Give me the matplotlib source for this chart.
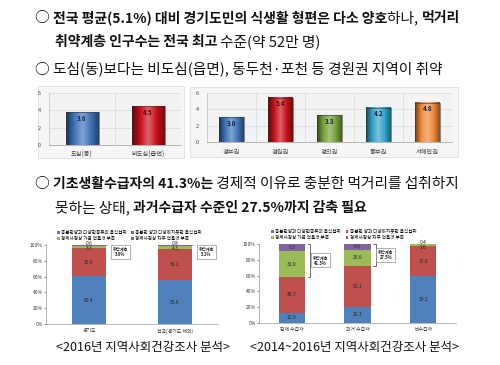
import numpy as np
import matplotlib.pyplot as plt
from matplotlib.colors import LinearSegmentedColormap, to_rgb
from matplotlib.patches import Rectangle
from matplotlib.text import Annotation

plt.rcParams['font.family'] = ['Noto Sans CJK KR', 'DejaVu Sans']

W, H = 500, 365

# 도심 / 비도심
area_cats = ['도심(동)', '비도심(읍면)']
area_vals = [3.8, 4.5]
area_colors = ['#3f74b8', '#c8101a']

# 권역별
region_cats = ['경부권', '경원권', '경의권', '동부권', '서해안권']
region_vals = [3.0, 5.4, 3.3, 4.2, 4.8]
region_colors = ['#3f74b8', '#c8101a', '#77a33a', '#33a3c7', '#f08a3a']

# 누적 막대 공통
stack_labels = ['충분한양과 다양한종류의 음식섭취', '충분한 양과 다양하지못한 음식섭취',
                '경제사정상 가끔 먹을것 부족', '경제사정상 자주 먹을것 부족']
stack_colors = ['#4f81bd', '#c0504d', '#9bbb59', '#8064a2']

# 2016
y2016_cats = ['경기도', '전국(경기도 제외)']
y2016_vals = [[60.4, 55.6], [35.6, 39.2], [3.3, 4.3], [0.6, 0.8]]
y2016_vuln = ['3.9%', '5.1%']

# 2014~2016 수급자별
recip_cats = ['현재 수급자', '과거 수급자', '비수급자']
recip_vals = [[12.9, 20.3, 59.2], [45.7, 52.1, 37.8], [32.0, 20.6, 2.6], [9.3, 6.9, 0.4]]
recip_vuln = ['41.3%', '27.5%']

lines = [
    (35, 18, [('○ ', False), ('전국 평균(5.1%) 대비 경기도민의 식생활 형편은 다소 양호', True),
              ('하나, ', False), ('먹거리', True)]),
    (55, 42, [('취약계층 인구수는 전국 최고 ', True), ('수준(약 52만 명)', False)]),
    (35, 69, [('○ 도심(동)보다는 비도심(읍면), 동두천·포천 등 경원권 지역이 취약', False)]),
    (35, 184, [('○ ', False), ('기초생활수급자의 41.3%는', True),
               (' 경제적 이유로 충분한 먹거리를 섭취하지', False)]),
    (55, 208, [('못하는 상태, ', False), ('과거수급자 수준인 27.5%까지 감축 필요', True)]),
]


def box(x0, y0, x1, y1):
    return [x0 / W, 1 - y1 / H, (x1 - x0) / W, (y1 - y0) / H]


def panel(x0, y0, x1, y1, color):
    fig.add_artist(Rectangle((x0 / W, 1 - y1 / H), (x1 - x0) / W, (y1 - y0) / H,
                             transform=fig.transFigure, facecolor=color,
                             edgecolor='#d0d0d0', lw=0.4, zorder=0))


fig = plt.figure(figsize=(5, 3.65), dpi=100)
fig.patch.set_facecolor('white')

# 본문 텍스트 (굵은 글씨와 보통 글씨를 이어 붙임)
for x, y, parts in lines:
    prev = None
    for s, bold in parts:
        w = 'bold' if bold else 'normal'
        fs = 10 if bold else 10.6
        if prev is None:
            prev = fig.text(x / W, 1 - y / H, s, fontsize=fs, fontweight=w,
                            va='center', ha='left', color='#111111')
        else:
            t = Annotation(s, xy=(1, 0), xycoords=prev, va='bottom', ha='left',
                           fontsize=fs, fontweight=w, color='#111111')
            fig.add_artist(t)
            prev = t


def shade(c):
    r = np.array(to_rgb(c))
    dark = r * 0.45
    light = np.clip(r + (1 - r) * 0.35, 0, 1)
    return LinearSegmentedColormap.from_list('g', [dark, r, light, r, dark * 1.3])


def simple_bars(ax, cats, vals, colors):
    ax.set_facecolor('#f3f3f3')
    x = range(len(cats))
    bars = ax.bar(x, vals, width=0.5, color='none', edgecolor='#333333', lw=0.4, zorder=4)
    grad = np.linspace(0, 1, 64).reshape(1, -1)
    for b, v, c in zip(bars, vals, colors):
        ax.imshow(grad, cmap=shade(c), aspect='auto', zorder=3,
                  extent=(b.get_x(), b.get_x() + b.get_width(), 0, v))
        tc = '#5a0000' if c == '#c8101a' else '#10204a'
        ax.text(b.get_x() + b.get_width() / 2, v - 0.3, f'{v:.1f}', ha='center', va='top',
                fontsize=4.5, fontweight='bold', color=tc, zorder=5)
    ax.set_ylim(0, 6)
    ax.set_xlim(-0.5, len(cats) - 0.5)
    ax.set_yticks([0, 2, 4, 6])
    ax.set_xticks(list(x))
    ax.set_xticklabels(cats, fontsize=4.5, color='#444444')
    ax.tick_params(axis='y', labelsize=4, colors='#444444', length=0, pad=6)
    ax.tick_params(axis='x', length=0, pad=4)
    ax.grid(axis='y', color='#d8d8d8', lw=0.5, zorder=0)
    for i in range(1, len(cats)):
        ax.axvline(i - 0.5, color='#d8d8d8', lw=0.5, zorder=0)
    for s in ['top', 'right']:
        ax.spines[s].set_visible(False)
    ax.spines['left'].set_color('#bbbbbb')
    ax.spines['bottom'].set_color('#999999')
    for s in ax.spines.values():
        s.set_linewidth(0.5)


panel(38, 86, 184, 158, '#f6f6f6')
axA = fig.add_axes(box(49, 93, 181, 145))
simple_bars(axA, area_cats, area_vals, area_colors)

panel(190, 87, 458, 157, '#f6f6f6')
axB = fig.add_axes(box(207, 93, 452, 142))
simple_bars(axB, region_cats, region_vals, region_colors)


def stacked(ax, cats, vals):
    x = list(range(len(cats)))
    bottoms = [0] * len(cats)
    handles = []
    for k, (seg, col, lab) in enumerate(zip(vals, stack_colors, stack_labels)):
        h = ax.bar(x, seg, bottom=bottoms, width=0.4, color=col, label=lab, zorder=3)
        handles.append(h)
        for i, v in enumerate(seg):
            if v >= 5:
                ty = bottoms[i] + v / 2
            elif k == 3:
                ty = 102
            else:
                ty = 95
            ax.text(i, ty, f'{v:.1f}', ha='center', va='center', fontsize=3.5,
                    color='#222222', zorder=4)
        bottoms = [b + v for b, v in zip(bottoms, seg)]
    ax.set_ylim(0, 100)
    ax.set_xlim(-0.5, len(cats) - 0.5)
    ax.set_yticks(range(0, 101, 20))
    ax.set_yticklabels([f'{t}%' for t in range(0, 101, 20)])
    ax.set_xticks(x)
    ax.set_xticklabels(cats, fontsize=3.5, color='#333333')
    ax.tick_params(axis='y', labelsize=3.5, colors='#333333', length=1.5, width=0.4, pad=1)
    ax.tick_params(axis='x', length=0, pad=3)
    for s in ['top', 'right']:
        ax.spines[s].set_visible(False)
    for s in ['left', 'bottom']:
        ax.spines[s].set_color('#999999')
        ax.spines[s].set_linewidth(0.5)
    order = [handles[0], handles[2], handles[1], handles[3]]
    ax.legend(order, [h.get_label() for h in order], ncol=2, loc='lower left',
              bbox_to_anchor=(0.05, 1.02), fontsize=3.3, frameon=False,
              handlelength=0.6, handleheight=0.6, columnspacing=1.0,
              handletextpad=0.3, labelspacing=0.3, borderpad=0)
    return bottoms


axC = fig.add_axes(box(46, 245, 218, 324))
stacked(axC, y2016_cats, y2016_vals)
for i, v in enumerate(y2016_vuln):
    axC.annotate('취약계층\n' + v, xy=(i + 0.2, 100), xytext=(14, -7),
                 textcoords='offset pixels', ha='center', va='center', fontsize=3,
                 fontweight='bold', color='#222222',
                 bbox=dict(boxstyle='square,pad=0.4', fc='white', ec='#777777', lw=0.4),
                 arrowprops=dict(arrowstyle='-', color='#777777', lw=0.4), zorder=5)

axD = fig.add_axes(box(259, 244, 456, 323))
stacked(axD, recip_cats, recip_vals)
for i, v in enumerate(recip_vuln):
    span = recip_vals[2][i] + recip_vals[3][i]
    top, bot = 100, 100 - span
    xb = i + 0.24
    axD.plot([xb, xb + 0.04, xb + 0.04, xb], [top, top, bot, bot], color='#333333',
             lw=0.5, zorder=5, clip_on=False)
    axD.annotate('취약계층\n' + v, xy=(xb + 0.04, (top + bot) / 2), xytext=(10, 0),
                 textcoords='offset pixels', ha='center', va='center', fontsize=3,
                 fontweight='bold', color='#222222',
                 bbox=dict(boxstyle='square,pad=0.4', fc='white', ec='#777777', lw=0.4),
                 zorder=5)

fig.text(143 / W, 1 - 347 / H, '<2016년 지역사회건강조사 분석>', fontsize=9,
         ha='center', va='center', color='#111111')
fig.text(355 / W, 1 - 347 / H, '<2014~2016년 지역사회건강조사 분석>', fontsize=9,
         ha='center', va='center', color='#111111')

fig.savefig('out.png', dpi=100)
